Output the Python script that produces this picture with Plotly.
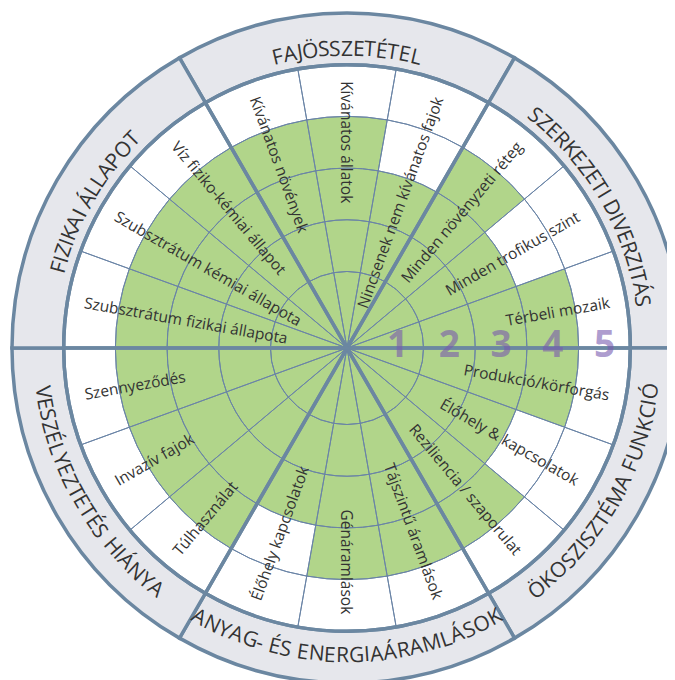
import math
import plotly.graph_objects as go

# ---------------- data ----------------
group_titles = ["FAJÖSSZETÉTEL", "SZERKEZETI DIVERZITÁS", "ÖKOSZISZTÉMA FUNKCIÓ",
                "ANYAG- ÉS ENERGIAÁRAMLÁSOK", "VESZÉLYEZTETÉS HIÁNYA", "FIZIKAI ÁLLAPOT"]
group_sizes = [3, 3, 3, 3, 3, 3]
categories = ["Kívánatos növények", "Kívánatos állatok", "Nincsenek nem kívánatos fajok",
              "Minden növényzeti réteg", "Minden trofikus szint", "Térbeli mozaik",
              "Produkció/körforgás", "Élőhely & kapcsolatok", "Reziliencia / szaporulat",
              "Tájszintű áramlások", "Génáramlások", "Élőhely kapcsolatok",
              "Túlhasználat", "Invazív fajok", "Szennyeződés",
              "Szubsztrátum fizikai állapota", "Szubsztrátum kémiai állapota",
              "Víz fiziko-kémiai állapot"]
values = [4, 4, 3, 4, 3, 4, 4, 3, 4, 4, 4, 3, 4, 4, 4, 4, 4, 4]
level_labels = ["1", "2", "3", "4", "5"]
max_level = 5

# ---------------- style ----------------
GREEN = "#b1d58a"
RING = "#e6e7ec"
THICK = "#6b87a1"
THIN = "#6a84a6"
TEXT = "#333333"
NUM = "rgba(120,90,175,0.6)"
FONT = "Open Sans"
LABEL_FS = 15.5
TITLE_FS = 21
NUM_FS = 37

W, H = 678, 680
RMIN = -0.48
PX_PER_LEVEL = 51.7
R_PX = min(W, H) / 2
RMAX = RMIN + R_PX / PX_PER_LEVEL
ROT = 110  # angular position (math degrees) of first category centre

LABEL_END_PX = 267
TITLE_R_TOP = 300.5
TITLE_R_BOTTOM = 306

# approximate Open Sans advance widths (em)
CW = {' ': .26, 'a': .556, 'b': .613, 'c': .476, 'd': .613, 'e': .561, 'f': .339, 'g': .548,
      'h': .614, 'i': .253, 'j': .253, 'k': .525, 'l': .253, 'm': .93, 'n': .614, 'o': .604,
      'p': .613, 'q': .613, 'r': .408, 's': .477, 't': .353, 'u': .614, 'v': .501, 'w': .778,
      'x': .524, 'y': .502, 'z': .477, '/': .342, '&': .725, '-': .322,
      'A': .633, 'B': .648, 'C': .631, 'D': .729, 'E': .556, 'F': .516, 'G': .728, 'H': .738,
      'I': .279, 'J': .267, 'K': .614, 'L': .524, 'M': .903, 'N': .754, 'O': .779, 'P': .602,
      'R': .618, 'S': .549, 'T': .558, 'U': .738, 'V': .578, 'Y': .556, 'Z': .558}
BASE = {'á': 'a', 'é': 'e', 'í': 'i', 'ó': 'o', 'ö': 'o', 'ő': 'o', 'ú': 'u', 'ü': 'u', 'ű': 'u',
        'Á': 'A', 'É': 'E', 'Í': 'I', 'Ó': 'O', 'Ö': 'O', 'Ő': 'O', 'Ú': 'U', 'Ü': 'U', 'Ű': 'U'}


def char_w(c, fs):
    return CW.get(BASE.get(c, c), 0.55) * fs


def text_w(s, fs):
    return sum(char_w(c, fs) for c in s)


def norm(a):
    a = (a + 180) % 360 - 180
    return 180.0 if a == -180 else a


def paper_xy(rho_px, phi_deg):
    p = math.radians(phi_deg)
    return 0.5 + rho_px * math.cos(p) / W, 0.5 + rho_px * math.sin(p) / H


N = len(categories)
step = 360 / N
cat_theta = [i * step for i in range(N)]

starts = [sum(group_sizes[:g]) for g in range(len(group_sizes))]
g_theta = [(s + (n - 1) / 2) * step for s, n in zip(starts, group_sizes)]
g_width = [n * step for n in group_sizes]

fig = go.Figure()

# green value bars
fig.add_trace(go.Barpolar(
    theta=cat_theta, r=[v - RMIN for v in values], base=RMIN, width=step,
    marker=dict(color=GREEN, line=dict(width=0)), hoverinfo="skip"))

# thin grid cells
cell_t, cell_b, cell_r = [], [], []
for t in cat_theta:
    for k in range(1, max_level + 1):
        lo = RMIN if k == 1 else k - 1
        cell_t.append(t)
        cell_b.append(lo)
        cell_r.append(k - lo)
fig.add_trace(go.Barpolar(
    theta=cell_t, r=cell_r, base=cell_b, width=step,
    marker=dict(color="rgba(0,0,0,0)", line=dict(color=THIN, width=1)), hoverinfo="skip"))

# outer ring of group titles
fig.add_trace(go.Barpolar(
    theta=g_theta, r=[1] * len(g_theta), base=max_level, width=g_width,
    marker=dict(color=RING, line=dict(color=THICK, width=3.5)), hoverinfo="skip"))

# thick group boundaries
fig.add_trace(go.Barpolar(
    theta=g_theta, r=[max_level - RMIN] * len(g_theta), base=RMIN, width=g_width,
    marker=dict(color="rgba(0,0,0,0)", line=dict(color=THICK, width=3.5)), hoverinfo="skip"))

# level numbers along the horizontal axis (math angle 0)
fig.add_trace(go.Scatterpolar(
    r=[k + 0.5 for k in range(len(level_labels))], theta=[ROT] * len(level_labels),
    mode="text", text=level_labels, textposition="middle center",
    textfont=dict(family=FONT, size=NUM_FS, color=NUM, weight="bold"),
    hoverinfo="skip"))

annotations = []
# category labels (radial)
for i, name in enumerate(categories):
    phi = norm(ROT - cat_theta[i])
    w = text_w(name, LABEL_FS)
    rc = LABEL_END_PX - w / 2
    x, y = paper_xy(rc, phi)
    ang = -phi if -90 <= phi < 90 else norm(180 - phi)
    annotations.append(dict(x=x, y=y, xref="paper", yref="paper", text=name,
                            showarrow=False, textangle=ang, xanchor="center", yanchor="middle",
                            font=dict(family=FONT, size=LABEL_FS, color=TEXT)))

# curved group titles, one annotation per character
for g, title in enumerate(group_titles):
    phi_c = norm(ROT - g_theta[g])
    top = phi_c > 0
    rho = TITLE_R_TOP if top else TITLE_R_BOTTOM
    total = text_w(title, TITLE_FS)
    span = total / rho
    cum = 0.0
    for c in title:
        cw = char_w(c, TITLE_FS)
        off = math.degrees((cum + cw / 2) / rho)
        cum += cw
        if c == " ":
            continue
        if top:
            phi = phi_c + math.degrees(span) / 2 - off
            ang = norm(90 - phi)
        else:
            phi = phi_c - math.degrees(span) / 2 + off
            ang = norm(-(phi + 90))
        x, y = paper_xy(rho, phi)
        annotations.append(dict(x=x, y=y, xref="paper", yref="paper", text=c,
                                showarrow=False, textangle=ang, xanchor="center",
                                yanchor="middle",
                                font=dict(family=FONT, size=TITLE_FS, color=TEXT)))

fig.update_layout(
    width=W, height=H, margin=dict(l=0, r=0, t=0, b=0),
    paper_bgcolor="white", showlegend=False,
    polar=dict(
        domain=dict(x=[0, 1], y=[0, 1]),
        bgcolor="white",
        radialaxis=dict(range=[RMIN, RMAX], visible=False),
        angularaxis=dict(rotation=ROT, direction="clockwise", visible=False),
    ),
    annotations=annotations,
)

fig.write_html("out.html")
